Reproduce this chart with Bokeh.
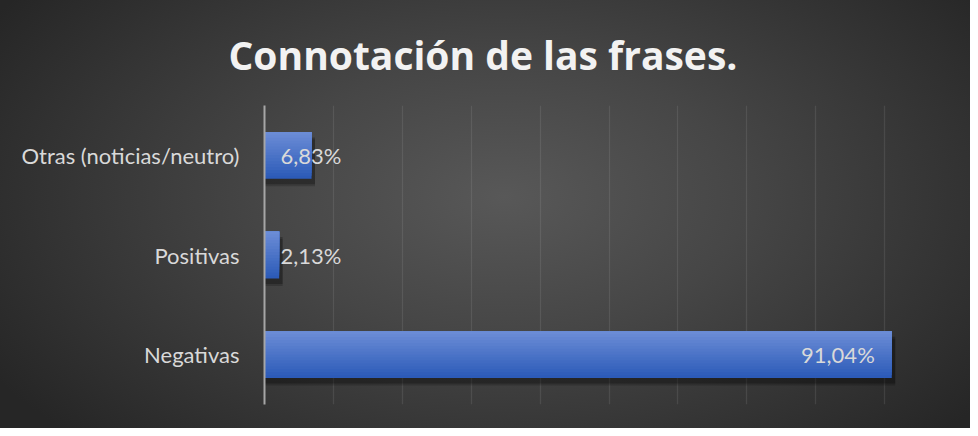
from bokeh.plotting import figure
from bokeh.models import FactorRange, Range1d, SingleIntervalTicker, ColumnDataSource
from bokeh.transform import dodge
from bokeh.core.properties import value
from bokeh.embed import file_html
from bokeh.resources import INLINE

# ---- data ----
categories = ["Negativas", "Positivas", "Otras (noticias/neutro)"]
percentages = [91.04, 2.13, 6.83]
label_texts = ["91,04%", "2,13%", "6,83%"]
title_text = "Connotación de las frases."

FONT = "Lato"
BAR_H = 0.47

p = figure(width=970, height=428,
           y_range=FactorRange(factors=categories, range_padding=0),
           x_range=Range1d(0, 100),
           output_backend="svg", toolbar_location=None,
           min_border_left=264, min_border_right=17,
           min_border_top=105, min_border_bottom=24)

p.background_fill_color = None
p.border_fill_color = None
p.outline_line_color = None
p.styles = {"background": "radial-gradient(ellipse 62% 80% at 52% 46%, #585858 0%, #464646 40%, #262626 100%)"}

# title
p.title.text = title_text
p.title.text_font = "Open Sans"
p.title.text_font_size = "39px"
p.title.text_font_style = "bold"
p.title.text_color = "#f2f2f2"
p.title.align = "left"
p.title.offset = -36
p.title.standoff = 49

# axes
p.xaxis.visible = False
p.xgrid.ticker = SingleIntervalTicker(interval=10)
p.xgrid.grid_line_color = "#d9d9d9"
p.xgrid.grid_line_alpha = 0.11
p.xgrid.grid_line_width = 1.3
p.ygrid.grid_line_color = None

yax = p.yaxis[0]
yax.axis_line_color = "#a6a6a6"
yax.axis_line_width = 2
yax.major_tick_line_color = None
yax.minor_tick_line_color = None
yax.major_label_text_color = "#d9d9d9"
yax.major_label_text_font = FONT
yax.major_label_text_font_size = "22px"
yax.major_label_standoff = 19

src = ColumnDataSource(dict(cat=categories, val=percentages,
                            shadow=[v + 0.5 for v in percentages]))

# shadow
for off, a in [(-0.075, 0.18), (-0.055, 0.25)]:
    p.hbar(y=dodge("cat", off, range=p.y_range), right="shadow", left=0,
           height=BAR_H, source=src, fill_color="black", fill_alpha=a, line_color=None)

# gradient bar: full bar in bottom colour, then shorter top-aligned bars lighter
top = (0x6b, 0x8c, 0xd6)
bot = (0x2c, 0x5b, 0xb8)
n = 16
for i in range(n):
    t = 1 - i / (n - 1)
    c = tuple(int(round(top[k] + (bot[k] - top[k]) * t)) for k in range(3))
    col = "#%02x%02x%02x" % c
    h = BAR_H * (n - i) / n
    off = BAR_H / 2 - h / 2
    p.hbar(y=dodge("cat", off, range=p.y_range), right="val", left=0,
           height=h, source=src, fill_color=col, line_color=None)

# data labels (inside end, clamped to axis start when too narrow)
lab_x, lab_align, lab_off = [], [], []
for v in percentages:
    if v > 20:
        lab_x.append(v); lab_align.append("right"); lab_off.append(-17)
    else:
        lab_x.append(0); lab_align.append("left"); lab_off.append(16)
lsrc = ColumnDataSource(dict(x=lab_x, cat=categories, txt=label_texts,
                             align=lab_align, xoff=lab_off))
p.text(x="x", y="cat", text="txt", source=lsrc, text_align="align", x_offset="xoff",
       text_baseline="middle", text_color="#d9d9d9", text_font=value(FONT),
       text_font_size="22px")

open("out.html", "w").write(file_html(p, INLINE))
